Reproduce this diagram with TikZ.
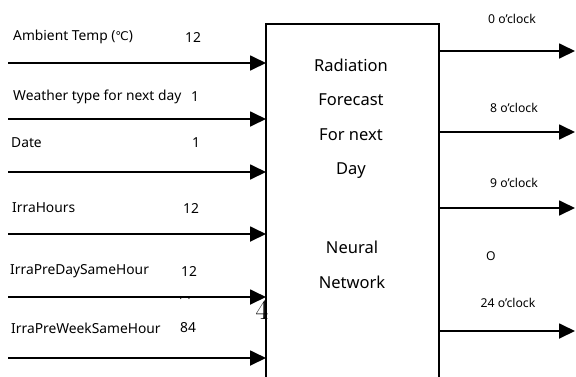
\documentclass[tikz,border=0pt]{standalone}
\usepackage{fontspec}
\setmainfont{Noto Sans}[Scale=1]
\newfontfamily\symfont{DejaVu Sans}
\newfontfamily\lmfont{Latin Modern Roman}
\usetikzlibrary{arrows.meta}
\begin{document}
\begin{tikzpicture}[x=1pt,y=-1pt,
  conn/.style={line width=1.8pt,-{Triangle[length=16pt,width=15pt]}},
  lbl/.style={inner sep=0pt,anchor=west,font=\fontsize{13.8}{15}\selectfont},
  num/.style={inner sep=0pt,font=\fontsize{13.8}{15}\selectfont},
  outl/.style={inner sep=0pt,font=\fontsize{12.2}{14}\selectfont},
  boxt/.style={inner sep=0pt,font=\fontsize{16.5}{18}\selectfont}]
\useasboundingbox (0,0) rectangle (576,376);
\fill[white] (0,0) rectangle (576,376);
% main box (runs off the bottom)
\draw[line width=1.6pt] (266,400) -- (266,24) -- (439,24) -- (439,400);
% box text
\node[boxt] (t1) at (351,65) {Radiation};
\node[boxt] (t2) at (351,100) {Forecast};
\node[boxt] (t3) at (351,135) {For next};
\node[boxt] (t4) at (351,171) {Day};
\node[boxt] (t5) at (352,247) {Neural};
\node[boxt] (t6) at (352,282) {Network};
% inputs
\coordinate (s1) at (8,63);   \coordinate (e1) at (266,63);
\coordinate (s2) at (8,119);  \coordinate (e2) at (266,119);
\coordinate (s3) at (8,172);  \coordinate (e3) at (266,172);
\coordinate (s4) at (8,234);  \coordinate (e4) at (266,234);
\coordinate (s5) at (8,297);  \coordinate (e5) at (266,297);
\coordinate (s6) at (8,358);  \coordinate (e6) at (266,358);
\foreach \i in {1,...,6} \draw[conn] (s\i) -- (e\i);
\node[lbl] (l1) at (13,37) {Ambient Temp ({\symfont\fontsize{12}{14}\selectfont ℃})};
\node[num] (n1) at (193,37) {12};
\node[lbl] (l2) at (13,97) {Weather type for next day};
\node[num] (n2) at (195,97) {1};
\node[lbl] (l3) at (11,143) {Date};
\node[num] (n3) at (196,143) {1};
\node[lbl] (l4) at (12,208) {IrraHours};
\node[num] (n4) at (191,208) {12};
\node[lbl] (l5) at (10,271) {IrraPreDaySameHour};
\node[num] (n5) at (189,271) {12};
\node[lbl] (l6) at (11,328) {IrraPreWeekSameHour};
\node[num] (n6) at (188,328) {84};
% artifacts
\node[inner sep=0pt,font=\bfseries\fontsize{9}{9}\selectfont] (dots) at (185,299) {.\hspace{6pt}.};
\node[inner sep=0pt,font=\lmfont\fontsize{28}{28}\selectfont] (four) at (262,310.5) {4};
% outputs
\coordinate (o1s) at (439,51);  \coordinate (o1e) at (575,51);
\coordinate (o2s) at (439,132); \coordinate (o2e) at (575,132);
\coordinate (o3s) at (439,208); \coordinate (o3e) at (575,208);
\coordinate (o4s) at (439,331); \coordinate (o4e) at (575,331);
\foreach \i in {1,...,4} \draw[conn] (o\i s) -- (o\i e);
\node[outl] (p1) at (512,19) {0 o'clock};
\node[outl] (p2) at (514,108) {8 o'clock};
\node[outl] (p3) at (514,183) {9 o'clock};
\node[outl] (p4) at (491,256) {O};
\node[outl] (p5) at (508,303) {24 o'clock};
\end{tikzpicture}
\end{document}
